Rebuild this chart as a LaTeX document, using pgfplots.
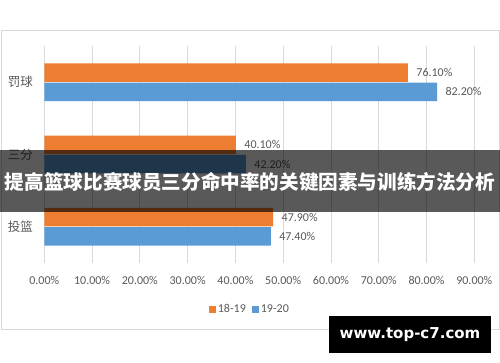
\documentclass[border=0pt]{standalone}
\usepackage{pgfplots}
\pgfplotsset{compat=1.18}
\usepackage{fontspec}
\setmainfont{Carlito}
\newfontfamily\cjk{Noto Sans CJK SC}
\newfontfamily\wm{DejaVu Sans}
\definecolor{cOrange}{HTML}{ED7D31}
\definecolor{cBlue}{HTML}{5B9BD5}
\definecolor{txt}{HTML}{595959}
\definecolor{gridc}{HTML}{D9D9D9}
\begin{document}
\begin{tikzpicture}[x=1pt,y=1pt]
\useasboundingbox (0,0) rectangle (500,-362);
\fill[white] (0,0) rectangle (500,-362);
\draw[gridc, line width=0.8pt] (1,-30) rectangle (499,-329);
\begin{axis}[
  at={(44.3pt,-263pt)}, anchor=south west,
  scale only axis, width=430pt, height=217pt,
  xmin=0, xmax=90, ymin=-0.5, ymax=2.5,
  xtick={0,10,...,90},
  ytick={0,1,2},
  yticklabels={投篮,三分,罚球},
  axis line style={draw=none},
  major tick length=0pt,
  xmajorgrids, grid style={gridc, line width=0.8pt},
  /pgf/number format/assume math mode=true,
  xticklabel={\pgfmathprintnumber[fixed,fixed zerofill,precision=2]{\tick}\%},
  xticklabel style={anchor=center, yshift=-17pt, font=\fontsize{12}{14}\selectfont, text=txt},
  yticklabel style={anchor=east, xshift=-8pt, font=\cjk\fontsize{12.5}{14}\selectfont, text=txt},
  xbar, bar width=18.5pt,
  nodes near coords={\pgfmathprintnumber[fixed,fixed zerofill,precision=2,assume math mode=true]{\pgfplotspointmeta}\%},
  nodes near coords style={font=\fontsize{12}{14}\selectfont, text=txt, anchor=west, xshift=5pt},
  legend style={at={(rel axis cs:0.478,-0.212)}, anchor=center, draw=none, fill=none,
    legend columns=-1, font=\fontsize{12}{14}\selectfont, text=txt,
    /tikz/every even column/.append style={column sep=4pt}},
  legend image code/.code={\fill[#1,draw=none] (0pt,-3.5pt) rectangle (7pt,3.5pt);},
]
\addplot[fill=cOrange, draw=none, bar shift=9.6pt] coordinates {(47.9,0) (40.1,1) (76.1,2)};
\addlegendentry{18-19}
\addplot[fill=cBlue, draw=none, bar shift=-9.6pt] coordinates {(47.4,0) (42.2,1) (82.2,2)};
\addlegendentry{19-20}
\end{axis}
\fill[black, opacity=0.65] (0,-150) rectangle (500,-212);
\node[white, inner sep=0pt, font=\cjk\bfseries\fontsize{19.6}{22}\selectfont] at (250,-182) {提高篮球比赛球员三分命中率的关键因素与训练方法分析};
\fill[black] (329,-316) rectangle (491,-353);
\node[white, inner sep=0pt, font=\wm\bfseries\fontsize{15}{17}\selectfont] at (410,-334.5) {www.top-c7.com};
\end{tikzpicture}
\end{document}
